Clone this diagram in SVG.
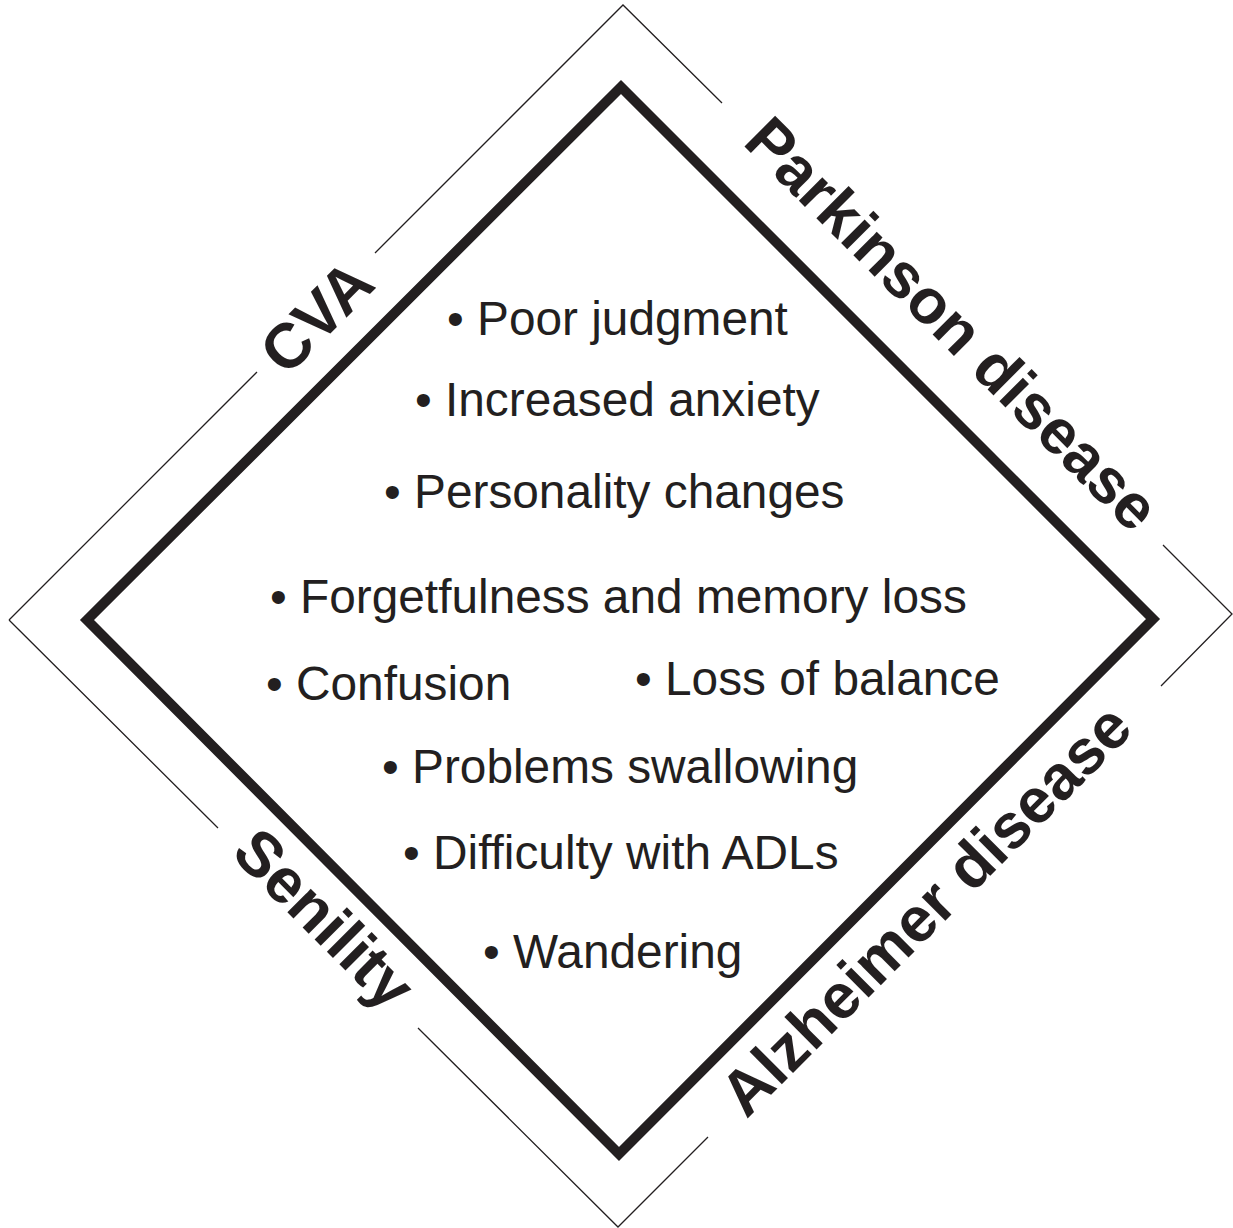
<svg xmlns="http://www.w3.org/2000/svg" width="1233" height="1228" viewBox="0 0 1233 1228">
<style>
.thin{fill:none;stroke:#231f20;stroke-width:1.3}
.thick{fill:none;stroke:#231f20;stroke-width:10;stroke-linejoin:miter;stroke-miterlimit:10}
.item{font-family:"Liberation Sans",Arial,Helvetica,sans-serif;font-size:47.8px;fill:#231f20}
.lbl{font-family:"Liberation Sans",Arial,Helvetica,sans-serif;font-size:63px;font-weight:bold;fill:#231f20;text-anchor:middle}
</style>
<rect width="1233" height="1228" fill="#ffffff"/>
<g id="outer-frame">
<path class="thin" d="M9,620 L257,372 M375,253 L623,5 L722,103 M1163,545 L1232,614 L1161,686 M708,1137 L618,1227 L418,1028 M218,828 L9,620"/>
</g>
<g id="inner-diamond">
<polygon class="thick" points="621,87 1153,619 619,1154 87,620"/>
</g>
<g id="label-cva"><text class="lbl" transform="translate(332,332) rotate(-45)">CVA</text></g>
<g id="label-parkinson"><text class="lbl" transform="translate(937,339) rotate(45)">Parkinson disease</text></g>
<g id="label-alzheimer"><text class="lbl" transform="translate(941,925) rotate(-45)">Alzheimer disease</text></g>
<g id="label-senility"><text class="lbl" transform="translate(309,934) rotate(45)">Senility</text></g>
<g id="symptoms">
<text class="item" x="447" y="335">• Poor judgment</text>
<text class="item" x="415" y="416">• Increased anxiety</text>
<text class="item" x="384" y="508">• Personality changes</text>
<text class="item" x="270" y="613">• Forgetfulness and memory loss</text>
<text class="item" x="266" y="700">• Confusion</text>
<text class="item" x="635" y="695">• Loss of balance</text>
<text class="item" x="382" y="783">• Problems swallowing</text>
<text class="item" x="403" y="869">• Difficulty with ADLs</text>
<text class="item" x="483" y="968">• Wandering</text>
</g>
</svg>
